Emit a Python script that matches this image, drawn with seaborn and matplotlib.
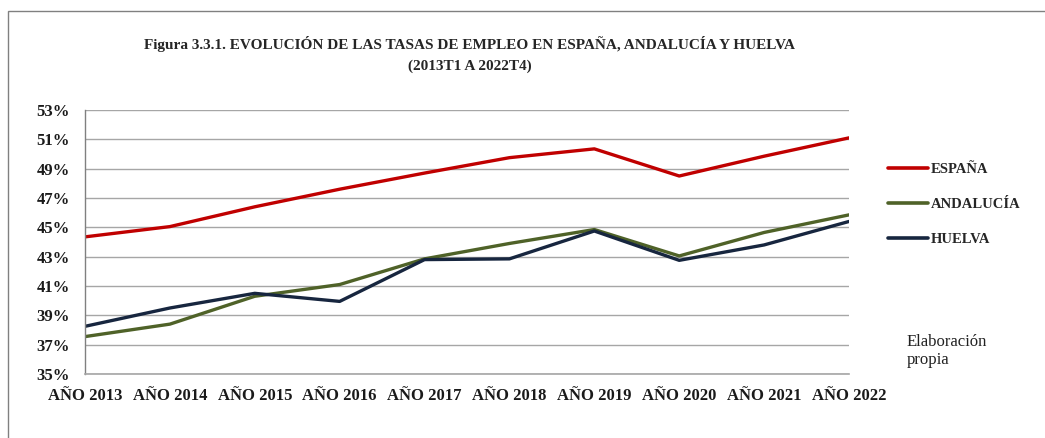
import matplotlib
matplotlib.use("Agg")
import matplotlib.pyplot as plt
import matplotlib.patches as mpatches
import matplotlib.ticker as mticker
import seaborn as sns
import pandas as pd

years = ["AÑO 2013", "AÑO 2014", "AÑO 2015", "AÑO 2016", "AÑO 2017",
         "AÑO 2018", "AÑO 2019", "AÑO 2020", "AÑO 2021", "AÑO 2022"]
espana = [44.35, 45.05, 46.4, 47.6, 48.7, 49.75, 50.35, 48.5, 49.85, 51.1]
andalucia = [37.55, 38.4, 40.3, 41.1, 42.85, 43.9, 44.85, 43.05, 44.65, 45.85]
huelva = [38.25, 39.5, 40.5, 39.95, 42.8, 42.85, 44.75, 42.75, 43.8, 45.4]
series_names = ["ESPAÑA", "ANDALUCÍA", "HUELVA"]
colors = ["#C00000", "#4F6228", "#17263F"]

rows = []
for name, vals in zip(series_names, [espana, andalucia, huelva]):
    for i, (y, v) in enumerate(zip(years, vals)):
        rows.append({"serie": name, "x": i, "year": y, "val": v})
df = pd.DataFrame(rows)

sns.set_style("white")
serif = ["Liberation Serif", "DejaVu Serif"]
plt.rcParams["font.family"] = serif

fig = plt.figure(figsize=(10.45, 4.38), dpi=100)
ax = fig.add_axes([85/1045, 1-374/438, (849-85)/1045, (374-110)/438])

sns.lineplot(data=df, x="x", y="val", hue="serie", palette=colors,
             hue_order=series_names, linewidth=2.4, ax=ax, legend=True)

ax.set_xlim(0, 9)
ax.set_ylim(35, 53)
ax.set_yticks(range(35, 54, 2))
ax.yaxis.set_major_formatter(mticker.FuncFormatter(lambda v, p: f"{int(v)}%"))
ax.set_xticks(range(len(years)))
ax.set_xticklabels(years)
ax.set_xlabel("")
ax.set_ylabel("")
ax.grid(axis="y", color="#A6A6A6", linewidth=1)
ax.set_axisbelow(True)
for s in ["top", "right"]:
    ax.spines[s].set_visible(False)
ax.spines["left"].set_color("#808080")
ax.spines["bottom"].set_color("#A6A6A6")
ax.spines["left"].set_linewidth(1)
ax.spines["bottom"].set_linewidth(1.2)
ax.tick_params(axis="both", length=0, labelsize=12, colors="#1a1a1a")
ax.tick_params(axis="y", pad=11)
ax.tick_params(axis="x", pad=10)
for lab in ax.get_xticklabels() + ax.get_yticklabels():
    lab.set_fontweight("bold")

leg = ax.legend(loc="upper left", bbox_to_anchor=(1.034, 0.849), frameon=False,
                handlelength=2.75, handletextpad=0.15, labelspacing=1.5,
                prop={"family": serif, "weight": "bold", "size": 10.5})
for line in leg.get_lines():
    line.set_linewidth(2.6)

fig.text(907/1045, 1-351/438, "Elaboración\npropia", ha="left", va="center",
         fontsize=12, family=serif, linespacing=1.2, color="#222222")

fig.text(470/1045, 1-44/438,
         "Figura 3.3.1. EVOLUCIÓN DE LAS TASAS DE EMPLEO EN ESPAÑA, ANDALUCÍA Y HUELVA",
         ha="center", va="center", fontsize=11, fontweight="bold", family=serif)
fig.text(470/1045, 1-66/438, "(2013T1 A 2022T4)",
         ha="center", va="center", fontsize=11, fontweight="bold", family=serif)

border = mpatches.Rectangle((8/1045, -0.1), 1.1, 1 - 11/438 + 0.1,
                            transform=fig.transFigure, fill=False,
                            edgecolor="#808080", linewidth=1, clip_on=False)
fig.patches.append(border)

fig.savefig("out.png", dpi=100)
